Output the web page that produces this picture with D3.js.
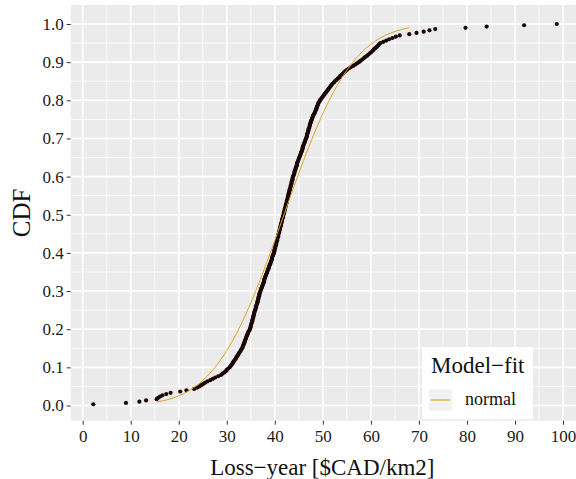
<!DOCTYPE html>
<html>
<head>
<meta charset="utf-8">
<script src="https://cdn.jsdelivr.net/npm/d3@7"></script>
<style>
  html, body { margin: 0; padding: 0; background: #ffffff; }
  svg { display: block; }
  svg text { font-family: "Liberation Serif", "Times New Roman", serif !important; }
</style>
</head>
<body>
<svg id="chart" width="576" height="479"></svg>
<script>
// Observed annual losses, sorted ascending ($CAD/km2)
const lossValues = [
  2.2, 9.0, 11.8, 13.2,
  15.4, 15.7, 16.1, 16.6, 17.4, 18.3,
  20.3, 21.6,
  23.2, 23.8, 24.3, 24.7, 25.1, 25.5,
  26.0, 26.6, 27.1, 27.6, 28.2, 28.8,
  29.1, 29.5, 29.8, 30.0, 30.3, 30.6,
  30.8, 31.0, 31.2, 31.3, 31.5, 31.7, 31.9, 32.0, 32.2, 32.4, 32.5, 32.7, 32.9, 33.0, 33.2,
  33.3, 33.4, 33.5, 33.6, 33.7, 33.8, 33.9, 34.0, 34.1, 34.2, 34.3, 34.4, 34.5, 34.7, 34.8,
  34.9, 35.0, 35.0, 35.1, 35.2, 35.3, 35.3, 35.4, 35.5, 35.5, 35.6, 35.7, 35.7, 35.8, 35.9,
  36.0, 36.1, 36.1, 36.2, 36.3, 36.4, 36.4, 36.5, 36.6, 36.6, 36.7, 36.8, 36.8, 36.9, 37.0,
  37.1, 37.2, 37.3, 37.4, 37.5, 37.6, 37.7, 37.8, 37.8, 37.9, 38.0, 38.1, 38.2, 38.3, 38.4,
  38.5, 38.6, 38.7, 38.8, 38.9, 39.0, 39.1, 39.2, 39.3, 39.4, 39.4, 39.5, 39.6, 39.7, 39.8,
  39.9, 39.9, 40.0, 40.1, 40.1, 40.2, 40.3, 40.3, 40.4, 40.5, 40.5, 40.6, 40.7, 40.7, 40.8,
  40.9, 40.9, 41.0, 41.1, 41.1, 41.2, 41.3, 41.3, 41.4, 41.5, 41.5, 41.6, 41.7, 41.7, 41.8,
  41.9, 41.9, 42.0, 42.1, 42.1, 42.2, 42.3, 42.3, 42.4, 42.5, 42.5, 42.6, 42.7, 42.7, 42.8,
  42.9, 42.9, 43.0, 43.1, 43.1, 43.2, 43.3, 43.3, 43.4, 43.5, 43.5, 43.6, 43.7, 43.7, 43.8,
  43.9, 44.0, 44.1, 44.1, 44.2, 44.3, 44.4, 44.5, 44.6, 44.6, 44.7, 44.8, 44.9, 45.0, 45.1,
  45.2, 45.3, 45.4, 45.5, 45.6, 45.7, 45.8, 45.8, 45.9, 46.0, 46.1, 46.2, 46.3, 46.4, 46.5,
  46.6, 46.7, 46.7, 46.8, 46.9, 47.0, 47.0, 47.1, 47.2, 47.3, 47.3, 47.4, 47.5, 47.6, 47.7,
  47.8, 47.9, 48.0, 48.1, 48.3, 48.4, 48.5, 48.6, 48.7, 48.8, 48.9, 49.0, 49.1, 49.3, 49.4,
  49.6, 49.8, 50.0, 50.2, 50.4, 50.6, 50.8, 51.0, 51.2, 51.4, 51.6, 51.8, 52.0, 52.3, 52.5,
  52.8, 53.1, 53.4, 53.6, 53.9, 54.2, 54.4, 54.7, 55.0,
  55.4, 55.8, 56.3, 56.7, 57.1, 57.5,
  57.8, 58.2, 58.5, 58.8, 59.2, 59.5,
  59.8, 60.1, 60.4, 60.6, 60.9, 61.2, 61.5, 61.7, 62.0,
  62.6, 63.2, 63.8,
  64.5, 65.2, 66.0,
  68.0, 69.5, 71.0, 72.2, 73.4,
  79.7, 84.1, 91.9, 98.7
];

// Fitted normal model: loss value and its cumulative probability
const fitX = [15.5, 18, 20, 22, 24, 26, 28, 30, 32, 34, 36, 38, 40, 42, 44, 46, 48, 50, 52, 54, 56, 58, 60, 62, 64, 66, 68];
const fitCdf = [0.0092, 0.0164, 0.0253, 0.0378, 0.0550, 0.0778, 0.1073, 0.1440, 0.1884, 0.2403, 0.2991, 0.3639, 0.4326, 0.5036,
                0.5744, 0.6428, 0.7070, 0.7652, 0.8164, 0.8600, 0.8960, 0.9247, 0.9470, 0.9637, 0.9758, 0.9843, 0.9901];

const xTicks = [0, 10, 20, 30, 40, 50, 60, 70, 80, 90, 100];
const xMinor = [5, 15, 25, 35, 45, 55, 65, 75, 85, 95];
const yTicks = [0, 0.1, 0.2, 0.3, 0.4, 0.5, 0.6, 0.7, 0.8, 0.9, 1.0];
const yMinor = [0.05, 0.15, 0.25, 0.35, 0.45, 0.55, 0.65, 0.75, 0.85, 0.95];

const xTitle = "Loss\u2212year [$CAD/km2]";
const yTitle = "CDF";
const legendTitle = "Model\u2212fit";
const seriesNames = ["normal"];

const pointColor = "#1c0707";
const fitColor = "#d9a425";

const svg = d3.select("#chart");

const x = d3.scaleLinear().domain([0, 100]).range([82.7, 563]);
const y = d3.scaleLinear().domain([0, 1]).range([405.5, 24]);

const panel = { left: 70.7, right: 576, top: 5, bottom: 420.7 };

// panel background
svg.append("rect")
  .attr("x", panel.left).attr("y", panel.top)
  .attr("width", panel.right - panel.left).attr("height", panel.bottom - panel.top)
  .attr("fill", "#ebebeb");

const grid = svg.append("g").attr("stroke", "#ffffff").attr("fill", "none");
grid.selectAll(".xminor").data(xMinor).join("line")
  .attr("x1", d => x(d)).attr("x2", d => x(d))
  .attr("y1", panel.top).attr("y2", panel.bottom).attr("stroke-width", 0.8);
grid.selectAll(".yminor").data(yMinor).join("line")
  .attr("y1", d => y(d)).attr("y2", d => y(d))
  .attr("x1", panel.left).attr("x2", panel.right).attr("stroke-width", 0.8);
grid.selectAll(".xmajor").data(xTicks).join("line")
  .attr("x1", d => x(d)).attr("x2", d => x(d))
  .attr("y1", panel.top).attr("y2", panel.bottom).attr("stroke-width", 1.6);
grid.selectAll(".ymajor").data(yTicks).join("line")
  .attr("y1", d => y(d)).attr("y2", d => y(d))
  .attr("x1", panel.left).attr("x2", panel.right).attr("stroke-width", 1.6);

// axes
const xAxis = d3.axisBottom(x).tickValues(xTicks).tickFormat(d3.format("d")).tickSize(4).tickPadding(5);
const yAxis = d3.axisLeft(y).tickValues(yTicks).tickFormat(d3.format(".1f")).tickSize(4).tickPadding(3);

const gx = svg.append("g").attr("transform", `translate(0,${panel.bottom})`).call(xAxis);
const gy = svg.append("g").attr("transform", `translate(${panel.left},0)`).call(yAxis);
[gx, gy].forEach(g => {
  g.attr("font-family", null).attr("font-size", null);
  g.select(".domain").remove();
  g.selectAll(".tick line").attr("stroke", "#333333").attr("stroke-width", 1);
  g.selectAll(".tick text").attr("fill", "#1a1a1a").style("font-size", "17px");
});

// empirical CDF points
const n = lossValues.length;
svg.append("g").selectAll("circle").data(lossValues).join("circle")
  .attr("cx", d => x(d))
  .attr("cy", (d, i) => y((i + 1) / n))
  .attr("r", 2.1)
  .attr("fill", pointColor);

// fitted model curve
const fitData = fitX.map((v, i) => [v, fitCdf[i]]);
svg.append("path")
  .datum(fitData)
  .attr("fill", "none")
  .attr("stroke", fitColor)
  .attr("stroke-width", 1)
  .attr("d", d3.line().x(d => x(d[0])).y(d => y(d[1])).curve(d3.curveMonotoneX));

// axis titles
svg.append("text")
  .attr("x", (panel.left + 574) / 2).attr("y", 475)
  .attr("text-anchor", "middle").style("font-size", "23px").attr("fill", "#111")
  .text(xTitle);
svg.append("text")
  .attr("transform", `translate(30,${(panel.top + panel.bottom) / 2}) rotate(-90)`)
  .attr("text-anchor", "middle").style("font-size", "25px").attr("fill", "#111")
  .text(yTitle);

// legend
const legend = svg.append("g").attr("transform", "translate(422,347)");
legend.append("rect").attr("width", 111).attr("height", 72).attr("fill", "#ffffff");
legend.append("text").attr("x", 9).attr("y", 26).style("font-size", "23px").attr("fill", "#111").text(legendTitle);
seriesNames.forEach((name, i) => {
  const row = legend.append("g").attr("transform", `translate(7,${42 + i * 24})`);
  row.append("rect").attr("width", 23).attr("height", 22).attr("fill", "#f2f2f2");
  row.append("line").attr("x1", 2).attr("x2", 21).attr("y1", 11).attr("y2", 11)
    .attr("stroke", fitColor).attr("stroke-width", 1.2);
  row.append("text").attr("x", 36).attr("y", 16).style("font-size", "18px").attr("fill", "#111").text(name);
});
</script>
</body>
</html>
